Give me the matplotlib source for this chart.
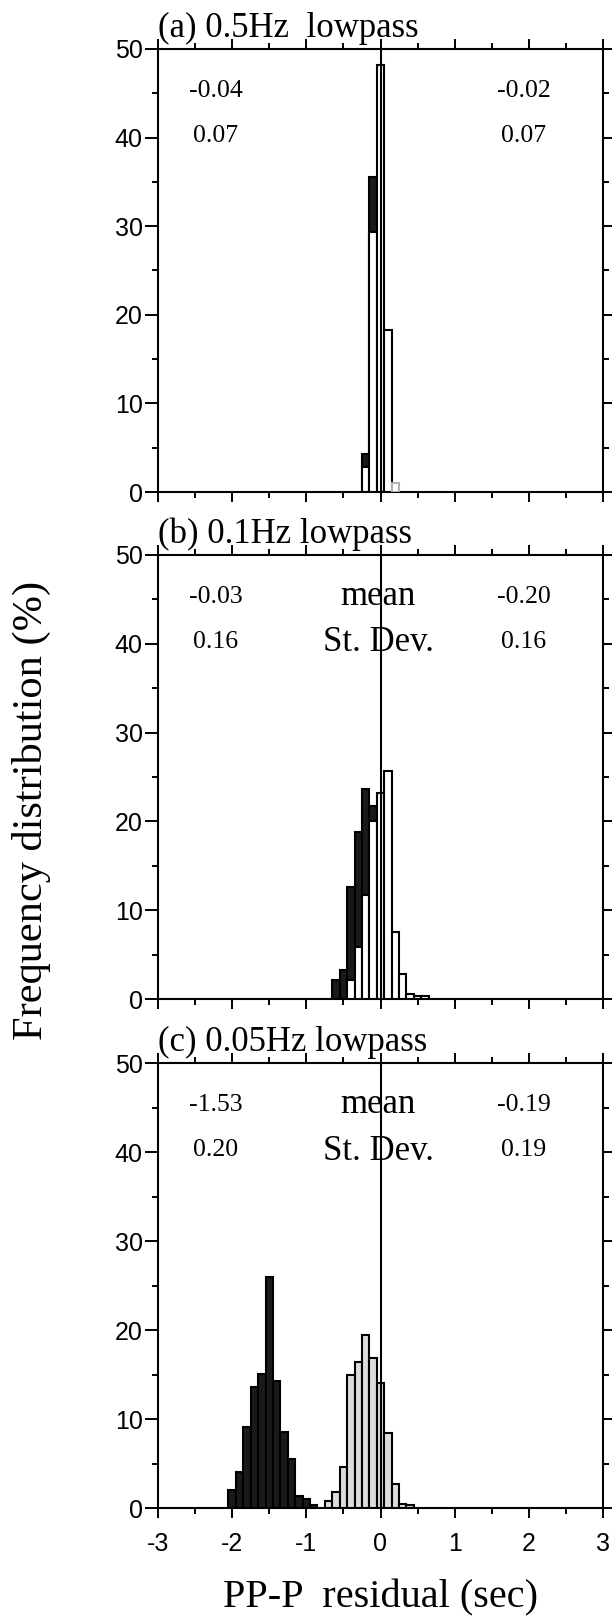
import matplotlib
matplotlib.use("Agg")
from matplotlib import pyplot as plt
from matplotlib.ticker import MultipleLocator

# bin centres (sec) and frequency (%), bin width 0.1 s
a_black_x = [-0.2, -0.1]
a_black_y = [4.3, 35.6]
a_white_x = [-0.2, -0.1, 0.0, 0.1, 0.2]
a_white_y = [2.8, 29.4, 48.2, 18.3, 1.0]

b_black_x = [-0.6, -0.5, -0.4, -0.3, -0.2, -0.1]
b_black_y = [2.1, 3.3, 12.6, 18.8, 23.7, 21.7]
b_white_x = [-0.4, -0.3, -0.2, -0.1, 0.0, 0.1, 0.2, 0.3, 0.4, 0.5, 0.6]
b_white_y = [2.1, 5.9, 11.7, 20.0, 23.2, 25.7, 7.6, 2.8, 0.6, 0.3, 0.3]

c_black_x = [-2.0, -1.9, -1.8, -1.7, -1.6, -1.5, -1.4, -1.3, -1.2, -1.1, -1.0, -0.9]
c_black_y = [2.0, 4.0, 9.1, 13.6, 15.1, 25.9, 14.3, 8.5, 5.5, 1.3, 1.0, 0.3]
c_gray_x = [-0.7, -0.6, -0.5, -0.4, -0.3, -0.2, -0.1, 0.0, 0.1, 0.2, 0.3, 0.4]
c_gray_y = [0.8, 1.8, 4.6, 15.0, 16.4, 19.4, 16.8, 14.0, 8.4, 2.7, 0.5, 0.3]

titles = ["(a) 0.5Hz  lowpass", "(b) 0.1Hz lowpass", "(c) 0.05Hz lowpass"]
left_stats = [("-0.04", "0.07"), ("-0.03", "0.16"), ("-1.53", "0.20")]
right_stats = [("-0.02", "0.07"), ("-0.20", "0.16"), ("-0.19", "0.19")]
show_labels = [False, True, True]

plt.rcParams['axes.unicode_minus'] = False
serif = 'Liberation Serif'
sans = 'Liberation Sans'

fig = plt.figure(figsize=(6.12, 16.17), dpi=100)
W, H = 612.0, 1617.0
tops = [49, 555, 1063]
bottoms = [492, 999, 1508]
left, right = 158, 603

panels = [
    (a_black_x, a_black_y, a_white_x, a_white_y, 'white'),
    (b_black_x, b_black_y, b_white_x, b_white_y, 'white'),
    (c_black_x, c_black_y, c_gray_x, c_gray_y, '#dcdcdc'),
]

axes = []
for i, (bx, by, wx, wy, wcol) in enumerate(panels):
    ax = fig.add_axes([left / W, 1 - bottoms[i] / H,
                       (right - left) / W, (bottoms[i] - tops[i]) / H])
    axes.append(ax)
    ax.bar(bx, by, width=0.1, color='#1a1a1a', edgecolor='black',
           linewidth=1.5, zorder=2)
    ecols = ['black'] * len(wx)
    if i == 0:
        ecols[-1] = '#b0b0b0'
    ax.bar(wx, wy, width=0.1, color=wcol, edgecolor=ecols,
           linewidth=1.5, zorder=3)
    ax.axvline(0, color='black', lw=1.5, zorder=4)

    ax.set_xlim(-3, 3)
    ax.set_ylim(0, 50)
    ax.xaxis.set_major_locator(MultipleLocator(1))
    ax.xaxis.set_minor_locator(MultipleLocator(0.5))
    ax.yaxis.set_major_locator(MultipleLocator(10))
    ax.yaxis.set_minor_locator(MultipleLocator(5))
    for s in ax.spines.values():
        s.set_linewidth(1.5)
    ax.tick_params(which='both', direction='out', top=True, right=True,
                   width=1.4)
    ax.tick_params(axis='y', which='major', length=9.5, pad=1.5)
    ax.tick_params(axis='y', which='minor', length=4.5)
    ax.tick_params(axis='x', which='major', length=7.2, pad=10)
    ax.tick_params(axis='x', which='minor', length=4)
    for lab in ax.get_yticklabels():
        lab.set_fontfamily(sans)
        lab.set_fontsize(18)
    if i < 2:
        ax.set_xticklabels([])
    else:
        for lab in ax.get_xticklabels():
            lab.set_fontfamily(sans)
            lab.set_fontsize(18)

    ax.text(0.0, 1.047, titles[i], transform=ax.transAxes, ha='left',
            va='center', fontsize=25, family=serif)
    ax.text(-2.22, 45.3, left_stats[i][0], ha='center', va='center',
            fontsize=18.5, family=serif)
    ax.text(-2.22, 40.2, left_stats[i][1], ha='center', va='center',
            fontsize=18.5, family=serif)
    ax.text(1.93, 45.3, right_stats[i][0], ha='center', va='center',
            fontsize=18.5, family=serif)
    ax.text(1.93, 40.2, right_stats[i][1], ha='center', va='center',
            fontsize=18.5, family=serif)
    if show_labels[i]:
        ax.text(-0.03, 45.3, "mean", ha='center', va='center',
                fontsize=25, family=serif)
        ax.text(-0.03, 40.1, "St. Dev.", ha='center', va='center',
                fontsize=25, family=serif)

fig.text(31 / W, 1 - 810 / H, "Frequency distribution (%)", rotation=90,
         ha='center', va='center', fontsize=30.5, family=serif)
fig.text((left + right) / 2 / W, 1 - 1598 / H, "PP-P  residual (sec)",
         ha='center', va='center', fontsize=29, family=serif)

fig.savefig("out.png", dpi=100)
